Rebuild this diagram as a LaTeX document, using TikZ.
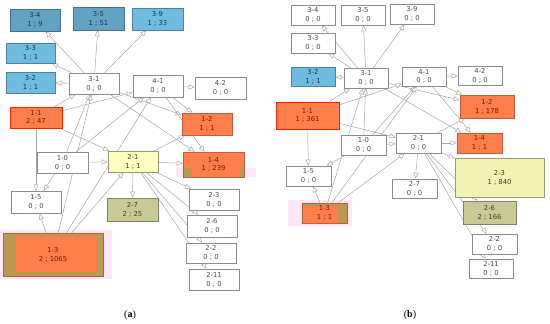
\documentclass[tikz,border=0pt]{standalone}
\usepackage{fontspec}
\newfontfamily\nodefont{DejaVu Sans}
\newfontfamily\capfont{Liberation Serif}
\usepackage{tikz}
\usetikzlibrary{arrows.meta, backgrounds}

\definecolor{bluedark}{HTML}{62A3C2}
\definecolor{bluelight}{HTML}{6EBCDF}
\definecolor{orangenode}{HTML}{FF7F4C}
\definecolor{yellowa}{HTML}{FFFFC0}
\definecolor{yellowb}{HTML}{F2F2B5}
\definecolor{olivenode}{HTML}{C9C996}
\definecolor{olivedark}{HTML}{B89A50}
\definecolor{halopink}{HTML}{FFE6FA}
\definecolor{edgegray}{HTML}{A6A6A6}
\definecolor{bordergray}{HTML}{8C8C8C}
\definecolor{txtgray}{HTML}{4D4D4D}
\definecolor{txtblue}{HTML}{1F3550}
\definecolor{txtred}{HTML}{7A1A00}
\definecolor{txtolive}{HTML}{404020}

\begin{document}
\begin{tikzpicture}[x=1pt, y=-1pt,
    nd/.style={draw=bordergray, line width=0.6pt, inner sep=0pt, align=center,
      font=\nodefont\fontsize{6.8}{8.8}\selectfont},
    sz/.style 2 args={minimum width=#1pt, minimum height=#2pt},
    plain/.style={nd, fill=white, text=txtgray},
    cold/.style={nd, fill=bluelight, draw=bluelight!70!black, text=txtblue},
    colder/.style={nd, fill=bluedark, draw=bluedark!70!black, text=txtblue},
    hot/.style={nd, fill=orangenode, draw=orangenode!75!black, text=txtred},
    mild/.style={nd, fill=yellowa, draw=yellowa!60!black, text=txtolive},
    dull/.style={nd, fill=olivenode, draw=olivenode!65!black, text=txtolive},
    link/.style={draw=edgegray, line width=0.5pt,
      -{Triangle[open, fill=white, length=6pt, width=5pt]}}]
  \useasboundingbox (0,0) rectangle (550,324);

  % Panel (a): nodes
  \node[colder, sz={50}{22}] (a34) at (35,20) {3-4\\1 ; 9};
  \node[colder, sz={51}{23}] (a35) at (98.5,18.5) {3-5\\1 ; 51};
  \node[cold, sz={51}{22}] (a39) at (157.5,19) {3-9\\1 ; 33};
  \node[cold, sz={49}{20}] (a33) at (30.5,53) {3-3\\1 ; 1};
  \node[cold, sz={49}{21}] (a32) at (30.5,82.5) {3-2\\1 ; 1};
  \node[plain, sz={50}{21}] (a31) at (94,83.5) {3-1\\0 ; 0};
  \node[plain, sz={50}{22}] (a41) at (158,86) {4-1\\0 ; 0};
  \node[plain, sz={51}{22}] (a42) at (220.5,88) {4-2\\0 ; 0};
  \node[hot, draw=red!75!orange, sz={52}{21}] (a11) at (36,117.5) {1-1\\2 ; 47};
  \node[hot, sz={50}{22}] (a12) at (207,124) {1-2\\1 ; 1};
  \node[hot, sz={61}{25}, path picture={
      \fill[olivedark] (path picture bounding box.south west) rectangle +(9pt,9pt);
      \fill[olivedark] (path picture bounding box.south east) rectangle +(-4pt,9pt);}]
    (a14) at (213.5,164.5) {1-4\\1 ; 239};
  \node[plain, sz={51}{21}] (a10) at (62.5,162.5) {1-0\\0 ; 0};
  \node[mild, sz={50}{21}] (a21) at (133,161.5) {2-1\\1 ; 1};
  \node[dull, sz={51}{23}] (a27) at (132.5,209.5) {2-7\\2 ; 25};
  \node[plain, sz={50}{22}] (a15) at (36,202) {1-5\\0 ; 0};
  \node[hot, fill=olivedark, sz={100}{43}, path picture={
      \fill[orangenode] ([xshift=13pt,yshift=4pt]path picture bounding box.south west)
        rectangle ([xshift=-6pt,yshift=-3pt]path picture bounding box.north east);}]
    (a13) at (53,254.5) {1-3\\2 ; 1065};
  \node[plain, sz={50}{21}] (a23) at (214,199.5) {2-3\\0 ; 0};
  \node[plain, sz={50}{22}] (a26) at (212,226) {2-6\\0 ; 0};
  \node[plain, sz={50}{20}] (a22) at (211,253) {2-2\\0 ; 0};
  \node[plain, sz={50}{21}] (a211) at (214,279.5) {2-11\\0 ; 0};

  % Panel (b): nodes
  \node[plain, sz={44}{20}] (b34) at (313,15) {3-4\\0 ; 0};
  \node[plain, sz={44}{20}] (b35) at (363,15) {3-5\\0 ; 0};
  \node[plain, sz={44}{20}] (b39) at (412,14) {3-9\\0 ; 0};
  \node[plain, sz={44}{20}] (b33) at (313,43) {3-3\\0 ; 0};
  \node[cold, sz={44}{19}] (b32) at (313,76.5) {3-2\\1 ; 1};
  \node[plain, sz={44}{20}] (b31) at (366,78) {3-1\\0 ; 0};
  \node[plain, sz={44}{19}] (b41) at (424,76.5) {4-1\\0 ; 0};
  \node[plain, sz={44}{19}] (b42) at (480,75.5) {4-2\\0 ; 0};
  \node[hot, draw=red!75!orange, sz={63}{27}] (b11) at (307.5,115.5) {1-1\\1 ; 361};
  \node[hot, sz={54}{23}] (b12) at (487,106.5) {1-2\\1 ; 178};
  \node[hot, sz={45}{20}] (b14) at (479.5,143) {1-4\\1 ; 1};
  \node[plain, sz={45}{20}] (b21) at (418.5,143) {2-1\\0 ; 0};
  \node[plain, sz={45}{20}] (b10) at (363.5,145) {1-0\\0 ; 0};
  \node[mild, fill=yellowb, sz={89}{39}] (b23) at (499.5,177.5) {2-3\\1 ; 840};
  \node[plain, sz={45}{19}] (b27) at (414.5,188.5) {2-7\\0 ; 0};
  \node[dull, sz={53}{23}] (b26) at (489.5,212.5) {2-6\\2 ; 166};
  \node[plain, sz={45}{20}] (b22) at (494.5,244) {2-2\\0 ; 0};
  \node[plain, sz={44}{19}] (b211) at (491,268.5) {2-11\\0 ; 0};
  \node[plain, sz={45}{20}] (b15) at (308.5,176) {1-5\\0 ; 0};
  \node[hot, fill=olivedark, sz={45}{20}, path picture={
      \fill[orangenode] (path picture bounding box.south west)
        rectangle ([xshift=-9pt,yshift=-3pt]path picture bounding box.north east);}]
    (b13) at (324.5,213) {1-3\\1 ; 1};

  % captions
  \node[font=\capfont\fontsize{10}{12}\selectfont] (capa) at (130,315) {(\textbf{a})};
  \node[font=\capfont\fontsize{10}{12}\selectfont] (capb) at (410,315) {(\textbf{b})};

  \begin{scope}[on background layer]
    % pink halos
    \fill[halopink] (0,230) rectangle (112,279);
    \fill[halopink] (176,168) rectangle (256,177);
    \fill[halopink] (288,200) rectangle (352,226);
    % connectors, same in both panels
    \foreach \p in {a,b}
      \foreach \s/\t in {31/34, 31/35, 31/39, 31/33, 31/32, 31/12, 31/14,
          41/42, 41/12, 41/14, 11/31, 11/41, 11/21, 11/15, 10/15, 10/21,
          10/31, 10/41, 21/12, 21/14, 21/27, 21/23, 21/26, 21/22, 21/211,
          13/15, 13/31, 13/21, 13/41}
        \draw[link] (\p\s) -- (\p\t);
  \end{scope}
\end{tikzpicture}
\end{document}
